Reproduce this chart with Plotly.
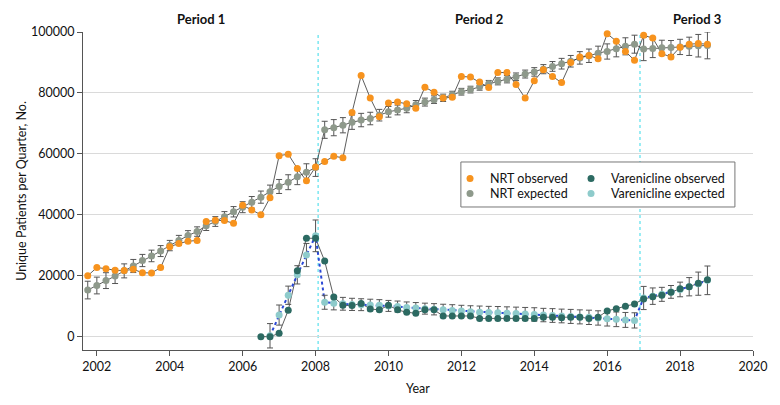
import plotly.graph_objects as go

# ---------------- data ----------------
quarters = [
    2001.75,
    2002.0, 2002.25, 2002.5, 2002.75,
    2003.0, 2003.25, 2003.5, 2003.75,
    2004.0, 2004.25, 2004.5, 2004.75,
    2005.0, 2005.25, 2005.5, 2005.75,
    2006.0, 2006.25, 2006.5, 2006.75,
    2007.0, 2007.25, 2007.5, 2007.75,
    2008.0, 2008.25, 2008.5, 2008.75,
    2009.0, 2009.25, 2009.5, 2009.75,
    2010.0, 2010.25, 2010.5, 2010.75,
    2011.0, 2011.25, 2011.5, 2011.75,
    2012.0, 2012.25, 2012.5, 2012.75,
    2013.0, 2013.25, 2013.5, 2013.75,
    2014.0, 2014.25, 2014.5, 2014.75,
    2015.0, 2015.25, 2015.5, 2015.75,
    2016.0, 2016.25, 2016.5, 2016.75,
    2017.0, 2017.25, 2017.5, 2017.75,
    2018.0, 2018.25, 2018.5, 2018.75,
]

nrt_observed = [
    20000,
    22700, 22300, 21800, 21700,
    22100, 21000, 20900, 22700,
    29500, 30600, 31300, 31600,
    37800, 38200, 38100, 37200,
    43100, 41600, 40000, 45600,
    59400, 59900, 55200, 51150,
    55700, 57500, 59250, 58700,
    73600, 85700, 78300, 72200,
    76700, 77000, 76450, 75000,
    81900, 80200, 78300, 78600,
    85400, 85200, 83600, 81800,
    86700, 86700, 82800, 78300,
    84000, 87600, 85400, 83400,
    90000, 91800, 92300, 91200,
    99400, 97000, 93600, 90700,
    98900, 98000, 92900, 91800,
    95000, 96000, 96200, 96000,
]

nrt_expected = [
    15300,
    16800, 18400, 19900, 21600,
    23200, 25000, 26500, 28100,
    29900, 31600, 33200, 34500,
    36400, 37800, 39400, 41000,
    42500, 44100, 45800, 47600,
    49300, 50700, 52500, 54000,
    55500, 67900, 68600, 69400,
    70400, 71100, 71600, 72700,
    73800, 74400, 75000, 76100,
    77000, 77800, 78400, 79400,
    80400, 81100, 82000, 83000,
    83800, 84500, 85300, 86200,
    86900, 87800, 88700, 89600,
    90400, 91500, 92200, 93000,
    93600, 94500, 95300, 96000,
    94400, 94600, 94800, 94900,
    95100, 95300, 95500, 95600,
]

nrt_expected_err = [
    2900,
    2750, 2600, 2450, 2300,
    2150, 2000, 1900, 1800,
    1700, 1650, 1600, 1550,
    1550, 1600, 1650, 1700,
    1800, 1900, 2000, 2150,
    2300, 2450, 2600, 2750,
    2900, 2800, 2650, 2500,
    2350, 2200, 2050, 1900,
    1750, 1600, 1500, 1400,
    1300, 1250, 1200, 1150,
    1100, 1100, 1100, 1100,
    1150, 1200, 1250, 1300,
    1400, 1500, 1600, 1750,
    1900, 2050, 2200, 2350,
    2500, 2650, 2800, 2950,
    3800, 3000, 2500, 2300,
    2500, 3000, 3700, 4400,
]

var_quarters = quarters[19:]  # 2006.5 onward

var_observed = [
    0, 0,
    1100, 8650, 21600, 32300,
    32300, 24800, 13000, 10300,
    10200, 10900, 9100, 8800,
    10300, 8800, 8000, 7700,
    8800, 8800, 6800, 6800,
    6800, 6800, 6000, 6000,
    6000, 6000, 6000, 6000,
    6000, 6400, 6400, 6250,
    6400, 6400, 6000, 6400,
    8450, 9200, 10000, 10750,
    12400, 13100, 13600, 14600,
    15700, 16400, 17500, 18700,
]

var_expected = [
    None, 300,
    7100, 13600, 20300, 26800,
    33100, 11300, 11000, 10800,
    10600, 10500, 10400, 10300,
    10100, 9900, 9600, 9400,
    9200, 9000, 8800, 8600,
    8400, 8200, 8050, 7950,
    7850, 7700, 7600, 7450,
    7300, 7100, 6950, 6800,
    6650, 6500, 6350, 6150,
    5900, 5700, 5500, 5350,
    12700, 13300, 13900, 14700,
    15500, 16400, 17400, 18500,
]

var_expected_err = [
    None, 4000,
    3300, 3000, 3000, 3800,
    5200, 2300, 2200, 2100,
    2000, 1950, 1900, 1850,
    1800, 1800, 1800, 1800,
    1800, 1850, 1850, 1900,
    1900, 1950, 2000, 2000,
    2050, 2100, 2100, 2150,
    2200, 2200, 2250, 2250,
    2300, 2300, 2350, 2350,
    2400, 2400, 2450, 2500,
    3800, 2700, 2300, 2100,
    2400, 3000, 3800, 4700,
]

period_breaks = [2008.07, 2016.9]
period_labels = ["Period 1", "Period 2", "Period 3"]
x_range = [2001.62, 2020.0]
y_range = [-4370, 100000]
x_ticks = [2002, 2004, 2006, 2008, 2010, 2012, 2014, 2016, 2018, 2020]
y_ticks = [0, 20000, 40000, 60000, 80000, 100000]

# ---------------- styles ----------------
C_ORANGE = "#F7931E"
C_GREY = "#8E998B"
C_DARK = "#2C6A62"
C_LIGHT = "#8ECBCB"
C_BLUE = "#2B48D6"
C_LINE = "#333333"
C_ERR = "#555555"
FONT = "Lato"
FS = 12.5

fig = go.Figure()

# connecting lines (under markers)
for xs, ys in [(quarters, nrt_expected), (quarters, nrt_observed), (var_quarters, var_observed)]:
    fig.add_trace(go.Scatter(x=xs, y=ys, mode="lines", line=dict(color=C_LINE, width=0.8),
                             showlegend=False, hoverinfo="skip", cliponaxis=False))
fig.add_trace(go.Scatter(x=var_quarters, y=var_expected, mode="lines",
                         line=dict(color=C_BLUE, width=2, dash="dot"),
                         showlegend=False, hoverinfo="skip", cliponaxis=False, connectgaps=False))

msize = 7
fig.add_trace(go.Scatter(
    x=var_quarters, y=var_expected, mode="markers", name="Varenicline expected",
    marker=dict(color=C_LIGHT, size=msize),
    error_y=dict(type="data", array=var_expected_err, visible=True, color=C_ERR, thickness=1, width=3),
    legend="legend4", cliponaxis=False))
fig.add_trace(go.Scatter(
    x=var_quarters, y=var_observed, mode="markers", name="Varenicline observed",
    marker=dict(color=C_DARK, size=msize),
    legend="legend2", cliponaxis=False))
fig.add_trace(go.Scatter(
    x=quarters, y=nrt_expected, mode="markers", name="NRT expected",
    marker=dict(color=C_GREY, size=msize),
    error_y=dict(type="data", array=nrt_expected_err, visible=True, color=C_ERR, thickness=1, width=3),
    legend="legend3", cliponaxis=False))
fig.add_trace(go.Scatter(
    x=quarters, y=nrt_observed, mode="markers", name="NRT observed",
    marker=dict(color=C_ORANGE, size=msize),
    legend="legend", cliponaxis=False))

# period break lines
shapes = []
for b in period_breaks:
    shapes.append(dict(type="line", xref="x", yref="paper", x0=b, x1=b, y0=0, y1=1,
                       line=dict(color="#66E3EE", width=1.3, dash="dot"), layer="below"))
# legend box
shapes.append(dict(type="rect", xref="paper", yref="paper", x0=0.564, x1=0.973, y0=0.4497, y1=0.5912,
                   line=dict(color="#777777", width=1), fillcolor="white", layer="below"))

# period labels centered in each period
bounds = [x_range[0]] + period_breaks + [x_range[1]]
annotations = []
for i, lab in enumerate(period_labels):
    annotations.append(dict(x=(bounds[i] + bounds[i + 1]) / 2, y=1, xref="x", yref="paper",
                            yanchor="bottom", yshift=3, showarrow=False, text="<b>" + lab + "</b>",
                            font=dict(family=FONT, size=13, color="#111")))

def leg(x, y):
    return dict(x=x, y=y, bgcolor="rgba(0,0,0,0)", borderwidth=0,
                font=dict(family=FONT, size=FS, color="#111"),
                itemwidth=30, yanchor="middle", xanchor="left", orientation="v")

col1, col2 = 0.5478, 0.7284
row1, row2 = 0.5378, 0.4906

fig.update_layout(
    width=780, height=405,
    margin=dict(l=75, r=35, t=24, b=63),
    paper_bgcolor="white", plot_bgcolor="white",
    font=dict(family=FONT, size=FS, color="#111"),
    showlegend=True,
    legend=leg(col1, row1),
    legend2=leg(col2, row1),
    legend3=leg(col1, row2),
    legend4=leg(col2, row2),
    shapes=shapes,
    annotations=annotations,
    xaxis=dict(range=x_range, tickvals=x_ticks, ticks="outside", ticklen=5, tickcolor="#555",
               showline=True, linecolor="#555", linewidth=1, showgrid=False, zeroline=False,
               tickfont=dict(family=FONT, size=FS, color="#111"),
               title=dict(text="Year", font=dict(family=FONT, size=FS, color="#111"), standoff=11)),
    yaxis=dict(range=y_range, tickvals=y_ticks, tickformat="d", ticks="outside", ticklen=5, tickcolor="#555",
               showline=True, linecolor="#555", linewidth=1, showgrid=True, gridcolor="#DADADA",
               gridwidth=1, zeroline=False,
               tickfont=dict(family=FONT, size=FS, color="#111"),
               title=dict(text="Unique Patients per Quarter, No.", font=dict(family=FONT, size=FS, color="#111"),
                          standoff=1)),
)

fig.write_html("out.html")
